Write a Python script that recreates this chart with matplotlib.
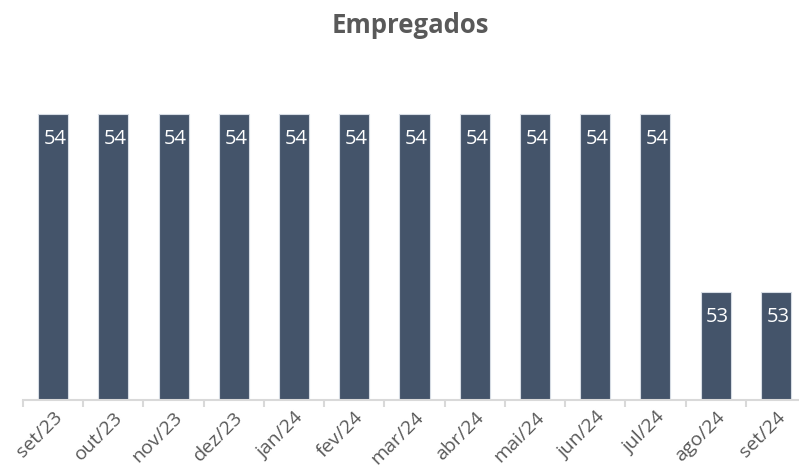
import matplotlib.pyplot as plt
import numpy as np

# dados
meses = ['set/23', 'out/23', 'nov/23', 'dez/23', 'jan/24', 'fev/24', 'mar/24',
         'abr/24', 'mai/24', 'jun/24', 'jul/24', 'ago/24', 'set/24']
empregados = [54, 54, 54, 54, 54, 54, 54, 54, 54, 54, 54, 53, 53]

plt.rcParams['font.family'] = ['Open Sans', 'DejaVu Sans']

fig = plt.figure(figsize=(7.99, 4.71), dpi=100)
ax = fig.add_axes([23 / 799, 71 / 471, 783 / 799, 340 / 471])

x = np.arange(len(meses))
bars = ax.bar(x, empregados, width=0.5, bottom=0, color='#44546A',
              edgecolor='#D6DCE4', linewidth=0.8)

ax.set_xlim(-0.5, len(meses) - 0.5)
ax.set_ylim(52.393, 54.303)

# rótulos de dados
for xi, v in zip(x, empregados):
    ax.annotate(str(v), (xi, v), xytext=(1.5, -18), textcoords='offset points',
                ha='center', va='center', color='white', fontsize=14.5)

# eixos
for s in ['top', 'right', 'left']:
    ax.spines[s].set_visible(False)
ax.spines['bottom'].set_color('#D9D9D9')
ax.spines['bottom'].set_linewidth(1.5)
ax.set_yticks([])

ax.set_xticks(np.arange(-0.5, len(meses)), minor=False)
ax.set_xticklabels([])
ax.tick_params(axis='x', which='major', length=5, width=1.5, color='#D9D9D9')
ax.set_xticks(x, minor=True)
ax.set_xticklabels(meses, minor=True, rotation=45, ha='right',
                   rotation_mode='anchor', fontsize=14, color='#595959')
ax.tick_params(axis='x', which='minor', length=0, pad=6)

fig.text(0.514, 0.945, 'Empregados', ha='center', va='center',
         fontsize=18.5, fontweight='bold', color='#595959')

fig.savefig('out.png', dpi=100)
